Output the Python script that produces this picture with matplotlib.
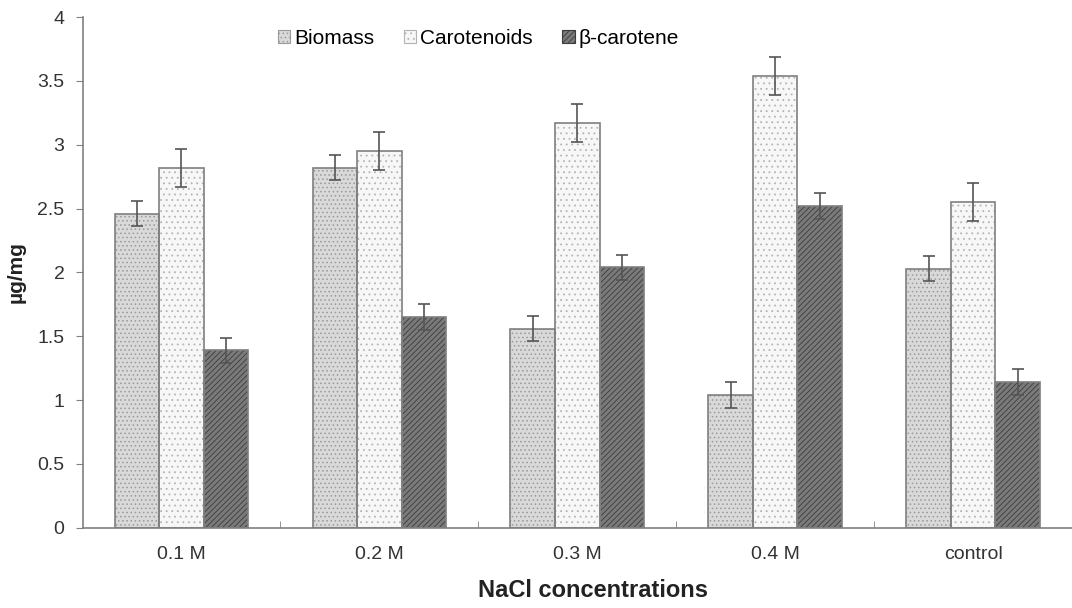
import matplotlib
matplotlib.use("Agg")
import matplotlib.pyplot as plt
import numpy as np

plt.rcParams['font.family'] = ['Liberation Sans', 'DejaVu Sans']
plt.rcParams['hatch.linewidth'] = 0.6

categories = ["0.1 M", "0.2 M", "0.3 M", "0.4 M", "control"]
series = ["Biomass", "Carotenoids", "\u03b2-carotene"]
biomass = [2.46, 2.82, 1.56, 1.04, 2.03]
carotenoids = [2.82, 2.95, 3.17, 3.54, 2.55]
bcarotene = [1.39, 1.65, 2.04, 2.52, 1.14]
biomass_err = [0.10, 0.10, 0.10, 0.10, 0.10]
carotenoids_err = [0.15, 0.15, 0.15, 0.15, 0.15]
bcarotene_err = [0.10, 0.10, 0.10, 0.10, 0.10]

values = [biomass, carotenoids, bcarotene]
errors = [biomass_err, carotenoids_err, bcarotene_err]
faces = ["#d9d9d9", "#f7f7f7", "#7a7a7a"]
hatchcols = ["#9a9a9a", "#b4b4b4", "#3c3c3c"]
hatches = ["....", "...", "//////"]

fig = plt.figure(figsize=(10.72, 6.08), dpi=100)
ax = fig.add_axes([0.077, 0.132, 0.923, 0.840])

x = np.arange(len(categories))
w = 0.225
for i in range(3):
    pos = x + (i - 1) * w
    ax.bar(pos, values[i], w, color=faces[i], edgecolor=hatchcols[i],
           hatch=hatches[i], linewidth=0, zorder=2)
    ax.bar(pos, values[i], w, fill=False, edgecolor="#7f7f7f",
           linewidth=1.2, zorder=3)
    ax.errorbar(pos, values[i], yerr=errors[i], fmt="none", ecolor="#555555",
                elinewidth=1.2, capsize=4, capthick=1.2, zorder=4)

# legend handles
from matplotlib.patches import Patch
handles = [Patch(facecolor=faces[i], edgecolor=hatchcols[i], hatch=hatches[i],
                 linewidth=0.8) for i in range(3)]
ax.legend(handles, series, loc="upper center", bbox_to_anchor=(0.40, 1.014),
          ncol=3, frameon=False, fontsize=15, handlelength=0.6,
          handleheight=0.6, handletextpad=0.2, columnspacing=1.4)

ax.set_xlim(-0.5, 4.5)
ax.set_ylim(0, 4)
ax.set_yticks(np.arange(0, 4.01, 0.5))
ax.set_yticklabels(["0", "0.5", "1", "1.5", "2", "2.5", "3", "3.5", "4"])
ax.set_xticks(x)
ax.set_xticklabels(categories)
ax.set_xticks(np.arange(0.5, 4.0, 1.0), minor=True)
ax.tick_params(axis="x", which="major", length=0, pad=13, labelsize=14, colors="#333333")
ax.tick_params(axis="x", which="minor", length=5, direction="in", color="#808080")
ax.tick_params(axis="y", length=5, color="#808080", labelsize=14, labelcolor="#333333", pad=8)

for s in ["top", "right"]:
    ax.spines[s].set_visible(False)
for s in ["left", "bottom"]:
    ax.spines[s].set_color("#808080")
    ax.spines[s].set_linewidth(1.2)

ax.set_xlabel("NaCl concentrations", fontsize=17, fontweight="bold", color="#222222")
ax.xaxis.set_label_coords(0.516, -0.10)
ax.set_ylabel("\u00b5g/mg", fontsize=15, fontweight="bold", color="#222222")
ax.yaxis.set_label_coords(-0.058, 0.5)

fig.savefig("out.png", dpi=100)
